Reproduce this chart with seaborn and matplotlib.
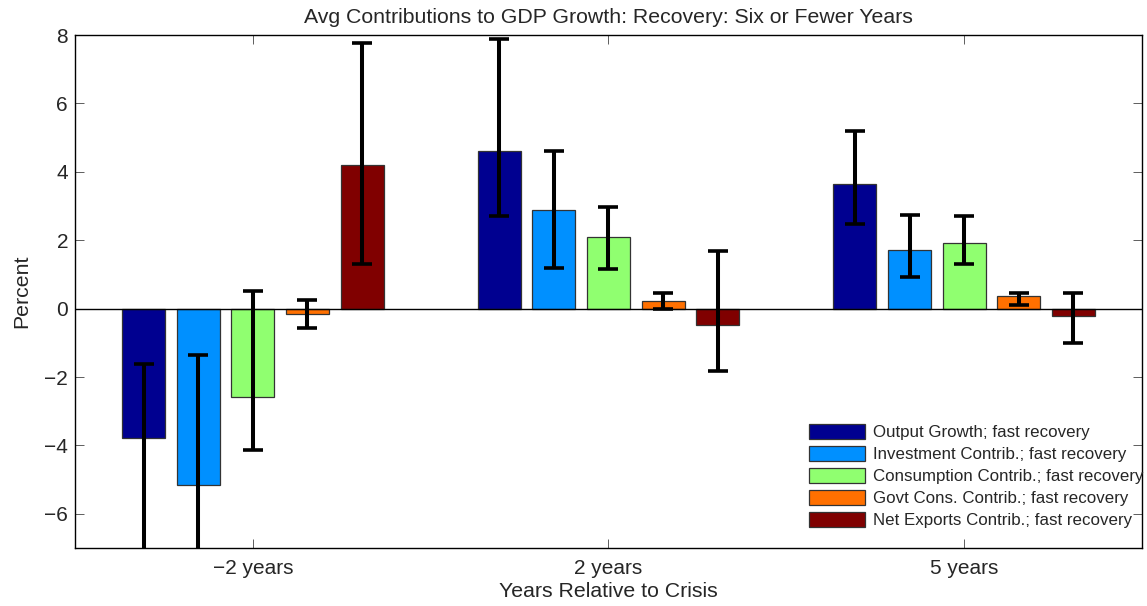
import numpy as np
import pandas as pd
import seaborn as sns
import matplotlib
matplotlib.use("Agg")
import matplotlib.pyplot as plt

# values
periods = ["\u22122 years", "2 years", "5 years"]
series = [
    "Output Growth; fast recovery",
    "Investment Contrib.; fast recovery",
    "Consumption Contrib.; fast recovery",
    "Govt Cons. Contrib.; fast recovery",
    "Net Exports Contrib.; fast recovery",
]
colors = ["#000090", "#0090ff", "#90ff70", "#ff7000", "#800000"]

output_mean = [-3.78, 4.61, 3.64]
invest_mean = [-5.17, 2.89, 1.72]
consum_mean = [-2.57, 2.10, 1.91]
govt_mean = [-0.17, 0.23, 0.38]
netexp_mean = [4.20, -0.47, -0.23]

output_hi = [-1.63, 7.88, 5.18]
invest_hi = [-1.35, 4.61, 2.75]
consum_hi = [0.51, 2.98, 2.70]
govt_hi = [0.24, 0.47, 0.47]
netexp_hi = [7.78, 1.68, 0.47]

output_lo = [-8.6, 2.70, 2.47]
invest_lo = [-9.0, 1.20, 0.93]
consum_lo = [-4.12, 1.17, 1.31]
govt_lo = [-0.57, 0.00, 0.10]
netexp_lo = [1.30, -1.82, -1.02]

means = [output_mean, invest_mean, consum_mean, govt_mean, netexp_mean]
highs = [output_hi, invest_hi, consum_hi, govt_hi, netexp_hi]
lows = [output_lo, invest_lo, consum_lo, govt_lo, netexp_lo]

rows = []
for s, vals in zip(series, means):
    for p, v in zip(periods, vals):
        rows.append({"period": p, "series": s, "value": v})
df = pd.DataFrame(rows)

sns.set_style("white")
plt.rcParams["font.family"] = ["Liberation Sans", "DejaVu Sans"]

fig = plt.figure(figsize=(11.47, 6.06), dpi=100)
ax = fig.add_axes([0.0654, 0.0957, 0.9302, 0.8465])

sns.barplot(data=df, x="period", y="value", hue="series", order=periods,
            hue_order=series, palette=colors, width=0.768, gap=0.21,
            errorbar=None, edgecolor="#333333", linewidth=0.9, saturation=1,
            ax=ax)

ax.axhline(0, color="black", lw=1, zorder=1)

# asymmetric error bars centred on the bars
for cont, m, lo, hi in zip(ax.containers, means, lows, highs):
    xs = [b.get_x() + b.get_width() / 2 for b in cont]
    m = np.array(m)
    yerr = [m - np.array(lo), np.array(hi) - m]
    ax.errorbar(xs, m, yerr=yerr, fmt="none", ecolor="black",
                elinewidth=2.9, capsize=7.2, capthick=2.6, zorder=5)

ax.set_xlim(-0.5, 2.5)
ax.set_ylim(-7, 8)
ax.set_yticks(np.arange(-6, 9, 2))
ax.tick_params(axis="y", labelsize=15, direction="in", length=6.5,
               width=0.6, color="#444444", right=True, left=True, pad=5)
ax.tick_params(axis="x", labelsize=15, direction="in", length=6.5,
               width=0.6, color="#444444", top=True, bottom=True, pad=8)
for sp in ax.spines.values():
    sp.set_visible(True)
    sp.set_color("black")
    sp.set_linewidth(1)

ax.set_xlabel("Years Relative to Crisis", fontsize=15.3, labelpad=3)
ax.set_ylabel("Percent", fontsize=15.3, labelpad=9)
ax.set_title("Avg Contributions to GDP Growth: Recovery: Six or Fewer Years",
             fontsize=15.3, pad=9)

ax.legend(loc="upper left", bbox_to_anchor=(0.688, 0.2417), frameon=False,
          fontsize=12.2, handlelength=3.3, handleheight=0.95, labelspacing=0.35,
          handletextpad=0.45, borderpad=0, borderaxespad=0)

plt.savefig("out.png", dpi=100)
plt.close()
